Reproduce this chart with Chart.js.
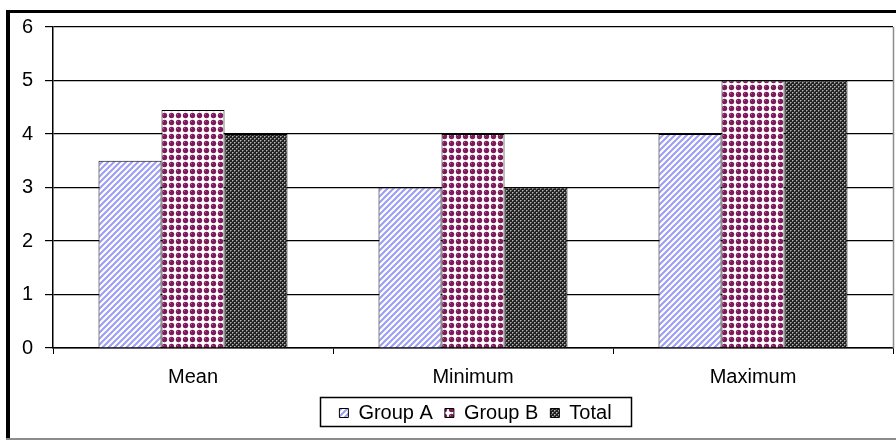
<!DOCTYPE html>
<html>
<head>
<meta charset="utf-8">
<script src="https://cdn.jsdelivr.net/npm/chart.js@4/dist/chart.umd.min.js"></script>
<style>
  html, body { margin: 0; padding: 0; background: #fff; }
  #wrap { width: 896px; height: 440px; position: relative; }
</style>
</head>
<body>
<div id="wrap"><canvas id="c" width="896" height="440"></canvas></div>
<script>
const categories = ['Mean', 'Minimum', 'Maximum'];
const groupA = [3.5, 3, 4];
const groupB = [4.45, 4, 5];
const total = [4, 3, 5];
const seriesNames = ['Group A', 'Group B', 'Total'];
const yTicks = [0, 1, 2, 3, 4, 5, 6];

const FONT = '"Liberation Sans", Arial, sans-serif';
const FONT_SIZE = 20;

function makeTile(size, paint) {
  const t = document.createElement('canvas');
  t.width = size; t.height = size;
  const g = t.getContext('2d');
  paint(g, size);
  return document.getElementById('c').getContext('2d').createPattern(t, 'repeat');
}

// light blue upward diagonal hatching
const hatchA = makeTile(6, (g, s) => {
  g.fillStyle = '#ffffff'; g.fillRect(0, 0, s, s);
  g.strokeStyle = '#9c9cf6'; g.lineWidth = 2;
  g.beginPath();
  g.moveTo(-1, s + 1); g.lineTo(s + 1, -1);
  g.moveTo(-1, 1); g.lineTo(1, -1);
  g.moveTo(s - 1, s + 1); g.lineTo(s + 1, s - 1);
  g.stroke();
});

// maroon beads with white gaps
const beadsB = makeTile(7, (g, s) => {
  g.fillStyle = '#ffffff'; g.fillRect(0, 0, s, s);
  g.fillStyle = '#7d1c5a';
  g.beginPath(); g.arc(3.5, 3.5, 2.7, 0, Math.PI * 2); g.fill();
  g.fillStyle = '#b06a96';
  g.fillRect(2, 2, 1, 1);
});

// dark fine checker
const checkT = makeTile(4, (g, s) => {
  g.fillStyle = '#222'; g.fillRect(0, 0, s, s);
  g.fillStyle = '#b8b8b8';
  g.fillRect(0, 0, 1, 1); g.fillRect(2, 2, 1, 1);
  g.fillStyle = '#707070';
  g.fillRect(1, 0, 1, 1); g.fillRect(0, 1, 1, 1);
  g.fillRect(3, 2, 1, 1); g.fillRect(2, 3, 1, 1);
});

const LEGEND_LIFT = 7;
const LEGEND_RIGHT = 29;

const framePlugin = {
  id: 'frame',
  beforeInit(chart) {
    const lg = chart.legend;
    if (lg) {
      const fit = lg.fit;
      lg.fit = function () {
        fit.call(this);
        this.height = 42;
      };
    }
  },
  afterLayout(chart) {
    // place the legend row under the category labels, slightly right of centre
    const lg = chart.legend;
    lg.top -= LEGEND_LIFT;
    lg.height += LEGEND_LIFT;
    lg.left += LEGEND_RIGHT;
    lg.right += LEGEND_RIGHT;
  },
  afterDraw(chart) {
    const ctx = chart.ctx;
    const a = chart.chartArea;
    ctx.save();
    // outer frame
    ctx.fillStyle = '#000';
    ctx.fillRect(6, 10, 4, 430);
    ctx.fillRect(6, 10, 890, 3);
    ctx.fillStyle = '#8c8c8c';
    ctx.fillRect(6, 438, 890, 2);
    // right edge of plot area
    ctx.strokeStyle = '#8c8c8c';
    ctx.lineWidth = 1.5;
    ctx.beginPath();
    ctx.moveTo(a.right + 0.5, a.top);
    ctx.lineTo(a.right + 0.5, a.bottom);
    ctx.stroke();
    // legend frame
    const boxes = chart.legend.legendHitBoxes;
    if (boxes && boxes.length) {
      let l = Infinity, r = -Infinity;
      boxes.forEach(b => { l = Math.min(l, b.left); r = Math.max(r, b.left + b.width); });
      ctx.strokeStyle = '#000';
      ctx.lineWidth = 1.5;
      ctx.strokeRect(Math.round(l - 19) + 0.5, 397.5, Math.round(r - l + 39), 29);
    }
    ctx.restore();
  }
};

new Chart(document.getElementById('c'), {
  type: 'bar',
  data: {
    labels: categories,
    datasets: [
      { label: seriesNames[0], data: groupA, backgroundColor: hatchA, borderColor: '#000', borderWidth: 1 },
      { label: seriesNames[1], data: groupB, backgroundColor: beadsB, borderColor: '#000', borderWidth: 1 },
      { label: seriesNames[2], data: total, backgroundColor: checkT, borderColor: '#000', borderWidth: 1 }
    ]
  },
  options: {
    responsive: false,
    animation: false,
    devicePixelRatio: 1,
    layout: { padding: { left: 0, top: 27, right: 3, bottom: 0 } },
    datasets: { bar: { barPercentage: 1, categoryPercentage: 0.675 } },
    scales: {
      x: {
        offset: true,
        grid: { offset: true, drawOnChartArea: false, drawTicks: true, tickLength: 6, color: '#000', lineWidth: 1 },
        border: { display: true, color: '#000', width: 1.5 },
        ticks: { color: '#000', font: { family: FONT, size: FONT_SIZE }, padding: 11 },
        afterFit(s) { s.height = 50; }
      },
      y: {
        min: 0, max: 6,
        afterBuildTicks(s) { s.ticks = yTicks.map(v => ({ value: v })); },
        grid: { color: '#000', lineWidth: 1.2, drawTicks: true, tickLength: 8 },
        border: { display: true, color: '#000', width: 1.5 },
        ticks: { color: '#000', font: { family: FONT, size: FONT_SIZE }, padding: 12 },
        afterFit(s) { s.width = 53; }
      }
    },
    plugins: {
      legend: {
        position: 'bottom',
        labels: {
          color: '#000',
          font: { family: FONT, size: FONT_SIZE },
          boxWidth: 9, boxHeight: 9,
          padding: 12
        }
      },
      tooltip: { enabled: false }
    }
  },
  plugins: [framePlugin]
});
</script>
</body>
</html>
